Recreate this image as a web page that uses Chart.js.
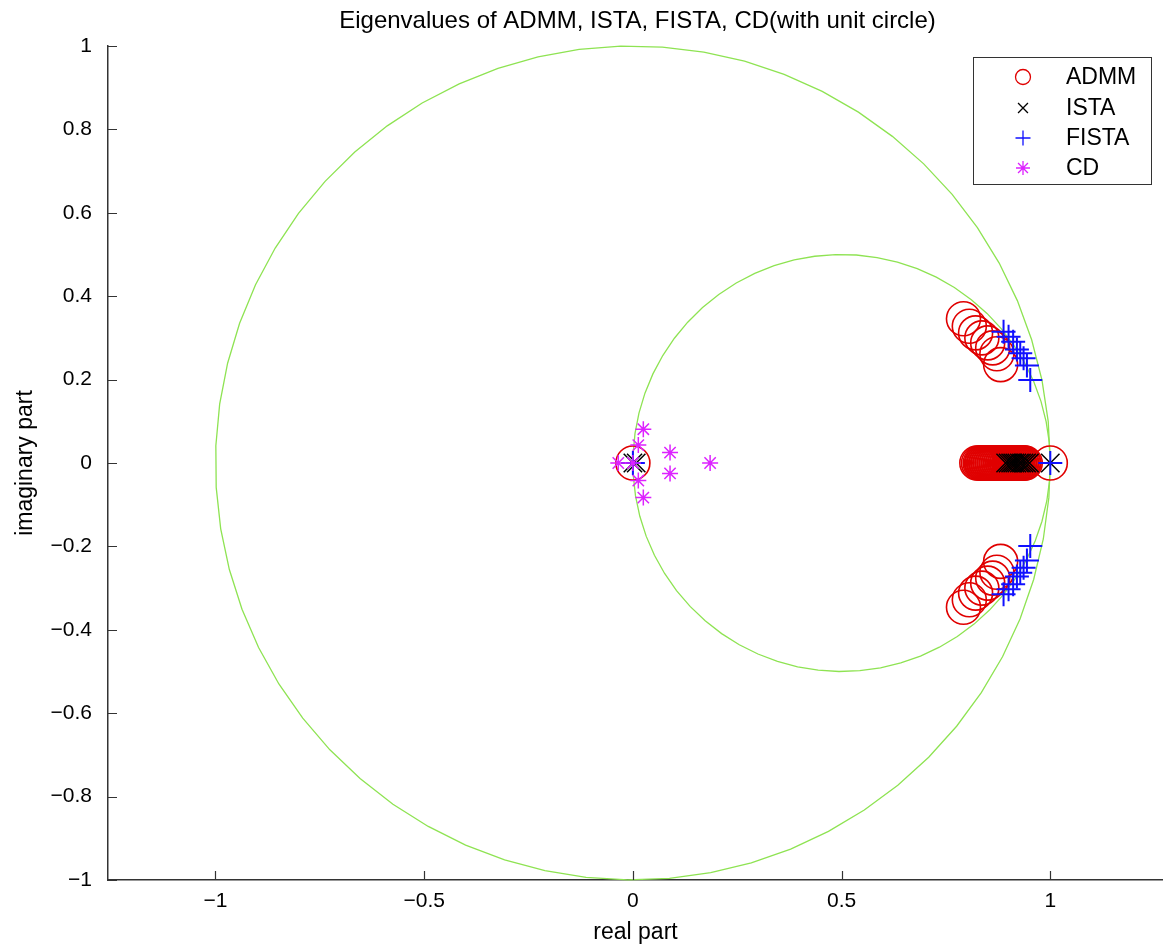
<!DOCTYPE html>
<html>
<head>
<meta charset="utf-8">
<title>Eigenvalues of ADMM, ISTA, FISTA, CD</title>
<script src="https://cdn.jsdelivr.net/npm/chart.js@4.4.1/dist/chart.umd.min.js"></script>
<style>
  html, body { margin: 0; padding: 0; background: #fff; }
  #wrap { width: 1163px; height: 949px; }
</style>
</head>
<body>
<div id="wrap"><canvas id="eigChart" width="1163" height="949"></canvas></div>
<script>
// eigenvalues, real and imaginary parts
const admmRe = [0, 1.0,
  0.824, 0.828, 0.832, 0.835, 0.837, 0.840, 0.842, 0.845, 0.847, 0.850, 0.852, 0.855,
  0.857, 0.860, 0.862, 0.865, 0.867, 0.870, 0.872, 0.875, 0.877, 0.880, 0.882, 0.885,
  0.887, 0.890, 0.892, 0.895, 0.897, 0.900, 0.902, 0.905, 0.907, 0.910, 0.912, 0.915,
  0.917, 0.920, 0.922, 0.925, 0.927, 0.930, 0.932, 0.935, 0.937, 0.940,
  0.792, 0.806, 0.821, 0.836, 0.850, 0.862, 0.872, 0.881,
  0.792, 0.806, 0.821, 0.836, 0.850, 0.862, 0.872, 0.881];
const admmIm = [0, 0,
  0, 0, 0, 0, 0, 0, 0, 0, 0, 0, 0, 0,
  0, 0, 0, 0, 0, 0, 0, 0, 0, 0, 0, 0,
  0, 0, 0, 0, 0, 0, 0, 0, 0, 0, 0, 0,
  0, 0, 0, 0, 0, 0, 0, 0, 0, 0,
  0.346, 0.328, 0.312, 0.300, 0.288, 0.276, 0.262, 0.236,
  -0.346, -0.328, -0.312, -0.300, -0.288, -0.276, -0.262, -0.236];

const istaRe = [0, 0.008, 0.893, 0.899, 0.905, 0.910, 0.915, 0.920, 0.926, 0.931, 0.937, 0.943, 0.950, 1.0];
const istaIm = [0, 0, 0, 0, 0, 0, 0, 0, 0, 0, 0, 0, 0, 0];

const fistaRe = [0, 1.0,
  0.888, 0.900, 0.911, 0.920, 0.928, 0.936, 0.944, 0.952,
  0.888, 0.900, 0.911, 0.920, 0.928, 0.936, 0.944, 0.952];
const fistaIm = [0, 0,
  0.315, 0.303, 0.291, 0.272, 0.263, 0.251, 0.234, 0.199,
  -0.315, -0.303, -0.291, -0.272, -0.263, -0.251, -0.234, -0.199];

const cdRe = [0, -0.035, 0.025, 0.013, 0.089, 0.185, 0.089, 0.013, 0.025];
const cdIm = [0, 0, 0.081, 0.043, 0.025, 0, -0.025, -0.042, -0.083];

// reference circles: unit circle and the one through 0 and 1
const circleCx = [0, 0.5];
const circleR = [1, 0.5];
const circleStep = 0.1;

const xTicks = [-1, -0.5, 0, 0.5, 1];
const yTicks = [-1, -0.8, -0.6, -0.4, -0.2, 0, 0.2, 0.4, 0.6, 0.8, 1];

const titleText = 'Eigenvalues of ADMM, ISTA, FISTA, CD(with unit circle)';
const FONT = '"Liberation Sans", Arial, Helvetica, sans-serif';

function pts(re, im) {
    return re.map((x, i) => ({ x: x, y: im[i] }));
}

function fmtTick(v) {
    return String(v).replace('-', '\u2212');
}

const series = [
    { label: 'ADMM', re: admmRe, im: admmIm, style: 'circle', color: '#e00000', r: 17, w: 1.6, order: 4 },
    { label: 'ISTA', re: istaRe, im: istaIm, style: 'crossRot', color: '#000000', r: 13, w: 1.5, order: 3 },
    { label: 'FISTA', re: fistaRe, im: fistaIm, style: 'cross', color: '#1010ff', r: 12, w: 2, order: 2 },
    { label: 'CD', re: cdRe, im: cdIm, style: 'star', color: '#dd22ff', r: 8, w: 1.5, order: 1 }
];

// small marker painter for the legend box
function marker(ctx, style, x, y, r) {
    ctx.beginPath();
    if (style === 'circle') {
        ctx.arc(x, y, r, 0, Math.PI * 2);
    } else if (style === 'crossRot') {
        const d = r * Math.SQRT1_2;
        ctx.moveTo(x - d, y - d); ctx.lineTo(x + d, y + d);
        ctx.moveTo(x - d, y + d); ctx.lineTo(x + d, y - d);
    } else if (style === 'cross') {
        ctx.moveTo(x - r, y); ctx.lineTo(x + r, y);
        ctx.moveTo(x, y - r); ctx.lineTo(x, y + r);
    } else {
        const d = r * Math.SQRT1_2;
        ctx.moveTo(x - r, y); ctx.lineTo(x + r, y);
        ctx.moveTo(x, y - r); ctx.lineTo(x, y + r);
        ctx.moveTo(x - d, y - d); ctx.lineTo(x + d, y + d);
        ctx.moveTo(x - d, y + d); ctx.lineTo(x + d, y - d);
    }
    ctx.stroke();
}

const circlesPlugin = {
    id: 'circles',
    beforeDatasetsDraw(chart) {
        const ctx = chart.ctx;
        const xs = chart.scales.x, ys = chart.scales.y;
        ctx.save();
        ctx.strokeStyle = '#8ee352';
        ctx.lineWidth = 1.3;
        for (let k = 0; k < circleCx.length; k++) {
            ctx.beginPath();
            for (let t = 0; t < Math.PI * 2; t += circleStep) {
                const px = xs.getPixelForValue(circleCx[k] + circleR[k] * Math.cos(t));
                const py = ys.getPixelForValue(circleR[k] * Math.sin(t));
                if (t === 0) ctx.moveTo(px, py); else ctx.lineTo(px, py);
            }
            ctx.closePath();
            ctx.stroke();
        }
        ctx.restore();
    }
};

const decorPlugin = {
    id: 'decor',
    afterDraw(chart) {
        const ctx = chart.ctx;
        const area = chart.chartArea;
        const xs = chart.scales.x, ys = chart.scales.y;
        ctx.save();

        // inward tick marks
        ctx.strokeStyle = '#333';
        ctx.lineWidth = 1.2;
        const tl = 9;
        ctx.beginPath();
        xTicks.forEach(v => {
            const px = Math.round(xs.getPixelForValue(v)) + 0.5;
            ctx.moveTo(px, area.bottom); ctx.lineTo(px, area.bottom - tl);
        });
        yTicks.forEach(v => {
            const py = Math.round(ys.getPixelForValue(v)) + 0.5;
            ctx.moveTo(area.left, py); ctx.lineTo(area.left + tl, py);
        });
        ctx.stroke();

        // title over the axes
        ctx.fillStyle = '#000';
        ctx.font = '24px ' + FONT;
        ctx.textAlign = 'center';
        ctx.textBaseline = 'middle';
        ctx.fillText(titleText, (area.left + area.right) / 2 + 2, 21);

        // legend box
        const bx = 973.5, by = 57.5, bw = 178, bh = 127;
        ctx.fillStyle = '#fff';
        ctx.fillRect(bx, by, bw, bh);
        ctx.strokeStyle = '#333';
        ctx.lineWidth = 1;
        ctx.strokeRect(bx, by, bw, bh);
        const rowY = [77, 108, 138, 168];
        const mr = { circle: 7.5, crossRot: 7, cross: 7.5, star: 7 };
        series.forEach((s, i) => {
            ctx.strokeStyle = s.color;
            ctx.lineWidth = 1.3;
            marker(ctx, s.style, 1023, rowY[i], mr[s.style]);
            ctx.fillStyle = '#000';
            ctx.textAlign = 'left';
            ctx.font = '23px ' + FONT;
            ctx.fillText(s.label, 1066, rowY[i] + 1);
        });
        ctx.restore();
    }
};

new Chart(document.getElementById('eigChart'), {
    type: 'scatter',
    data: {
        datasets: series.map(s => ({
            label: s.label,
            data: pts(s.re, s.im),
            pointStyle: s.style,
            pointRadius: s.r,
            pointBorderWidth: s.w,
            borderColor: s.color,
            backgroundColor: 'rgba(0,0,0,0)',
            order: s.order
        }))
    },
    options: {
        responsive: false,
        animation: false,
        events: [],
        layout: { autoPadding: false, padding: { top: 46, right: 0, bottom: 0, left: 0 } },
        plugins: {
            legend: { display: false },
            title: { display: false },
            tooltip: { enabled: false }
        },
        scales: {
            x: {
                type: 'linear',
                min: -1.2575,
                max: 1.27,
                afterBuildTicks: scale => { scale.ticks = xTicks.map(v => ({ value: v })); },
                afterFit: scale => {
                    scale.height = 69;
                    scale.paddingLeft = 0;
                    scale.paddingRight = 0;
                },
                grid: { display: true, drawOnChartArea: false, drawTicks: false },
                border: { display: true, color: '#333', width: 1.5 },
                ticks: {
                    padding: 9,
                    color: '#000',
                    font: { family: FONT, size: 21 },
                    callback: v => fmtTick(v)
                },
                title: {
                    display: true,
                    text: 'real part',
                    color: '#000',
                    font: { family: FONT, size: 23 },
                    padding: { top: 0, bottom: 3 }
                }
            },
            y: {
                type: 'linear',
                min: -1,
                max: 1,
                afterBuildTicks: scale => { scale.ticks = yTicks.map(v => ({ value: v })); },
                afterFit: scale => { scale.width = 108; },
                grid: { display: true, drawOnChartArea: false, drawTicks: false },
                border: { display: true, color: '#333', width: 1.5 },
                ticks: {
                    padding: 16,
                    color: '#000',
                    font: { family: FONT, size: 21 },
                    callback: v => fmtTick(v)
                },
                title: {
                    display: true,
                    text: 'imaginary part',
                    color: '#000',
                    font: { family: FONT, size: 23 },
                    padding: { top: 12, bottom: 0 }
                }
            }
        }
    },
    plugins: [circlesPlugin, decorPlugin]
});
</script>
</body>
</html>
